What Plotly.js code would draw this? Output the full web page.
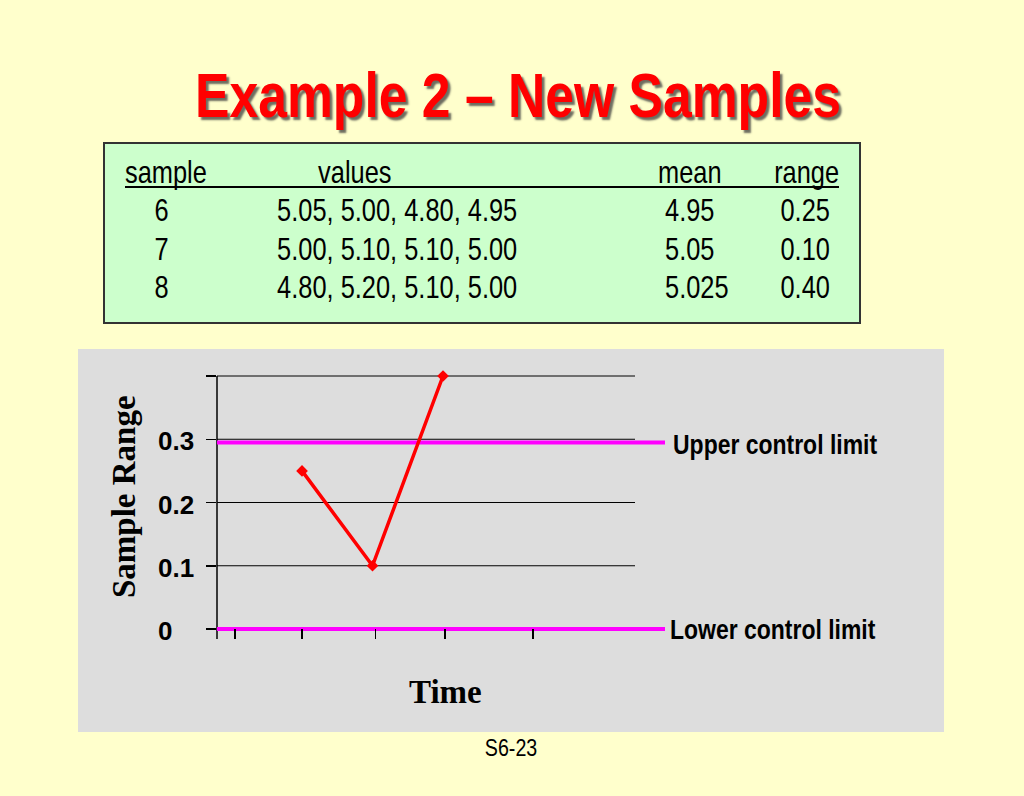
<!DOCTYPE html>
<html><head><meta charset="utf-8">
<script src="https://cdn.plot.ly/plotly-3.0.1.min.js"></script>
<style>html,body{margin:0;padding:0;background:#FFFFCC;overflow:hidden}</style>
</head><body><div id="chart" style="width:1024px;height:796px"></div>
<script>
// ---- data ----
const slideTitle = 'Example 2 – New Samples';
const tableHeaders = ['sample', 'values', 'mean', 'range'];
const samples = [6, 7, 8];
const sampleValues = [[5.05, 5.00, 4.80, 4.95], [5.00, 5.10, 5.10, 5.00], [4.80, 5.20, 5.10, 5.00]];
const sampleMeans = ['4.95', '5.05', '5.025'];
const sampleRanges = [0.25, 0.10, 0.40];
const upperControlLimit = 0.295;
const lowerControlLimit = 0;
const limitLabels = ['Upper control limit', 'Lower control limit'];
const yTickVals = [0, 0.1, 0.2, 0.3, 0.4];
const yTickLabels = ['0', '0.1', '0.2', '0.3', ''];
const yGridVals = [0.1, 0.2, 0.3, 0.4];
const xTickVals = [5.05, 6, 7.04, 8.03, 9.28];
const yAxisTitle = 'Sample Range';
const xAxisTitle = 'Time';
const slideNumber = 'S6-23';

// ---- layout geometry (pixels) ----
const W = 1024, H = 796;
const L = 217, R = 665, T = 370, B = 639;
const xRange = [4.794, 11.149];
const yRange = [-0.0158, 0.4095];
const px = X => (X - L) / (R - L);
const py = Y => (B - Y) / (B - T);

const sans = "'Liberation Sans', Arial, sans-serif";
const serif = "'Liberation Serif', 'Times New Roman', serif";
const NARROW = 0.82; // Arial Narrow look: horizontal squeeze of Arial

const traces = [
  { x: xRange, y: [upperControlLimit, upperControlLimit], mode: 'lines',
    line: { color: '#FF00FF', width: 4 }, hoverinfo: 'skip' },
  { x: xRange, y: [lowerControlLimit, lowerControlLimit], mode: 'lines',
    line: { color: '#FF00FF', width: 4 }, hoverinfo: 'skip' },
  { x: samples, y: sampleRanges, mode: 'lines+markers', cliponaxis: false,
    line: { color: '#FF0000', width: 3.5 },
    marker: { symbol: 'diamond', size: 9, color: '#FF0000' } }
];

const shapes = [
  { type: 'rect', xref: 'paper', yref: 'paper', x0: px(78), x1: px(944), y0: py(349), y1: py(732),
    fillcolor: '#DDDDDD', line: { width: 0 }, layer: 'below' },
  { type: 'rect', xref: 'paper', yref: 'paper', x0: px(104), x1: px(860), y0: py(143), y1: py(323),
    fillcolor: '#CCFFCC', line: { color: '#333333', width: 2 }, layer: 'below' },
  { type: 'line', xref: 'paper', yref: 'paper', x0: px(125), x1: px(839), y0: py(187), y1: py(187),
    line: { color: '#000000', width: 2 }, layer: 'below' },
  { type: 'line', xref: 'paper', yref: 'y', x0: 0, x1: 0, y0: yRange[0], y1: yTickVals[yTickVals.length - 1],
    line: { color: '#000000', width: 1.5 }, layer: 'below' }
];
yGridVals.forEach(v => shapes.push({
  type: 'line', xref: 'paper', yref: 'y', x0: 0, x1: px(635), y0: v, y1: v,
  line: { color: '#000000', width: 1 }, layer: 'below'
}));

const annotations = [];
const squeeze = []; // {index, scale, origin}
function ann(text, x, y, o, scale) {
  const a = Object.assign({ text: text, x: x, y: y, xref: 'paper', yref: 'paper',
    showarrow: false, xanchor: 'center', yanchor: 'middle' }, o);
  annotations.push(a);
  if (scale) squeeze.push({ index: annotations.length - 1, scale: scale, origin: a.xanchor === 'left' ? 'left' : 'center' });
}
const headerX = [166, 355, 690, 806];
tableHeaders.forEach((h, i) => ann(h, px(headerX[i]), py(172),
  { font: { family: sans, size: 31, color: '#000' } }, NARROW));
const rowY = [210, 249, 287];
samples.forEach((s, i) => {
  ann(String(s), px(161), py(rowY[i]), { font: { family: sans, size: 31, color: '#000' } }, NARROW);
  ann(sampleValues[i].map(v => v.toFixed(2)).join(', '), px(275), py(rowY[i]),
    { xanchor: 'left', font: { family: sans, size: 31, color: '#000' } }, NARROW);
  ann(sampleMeans[i], px(663), py(rowY[i]), { xanchor: 'left', font: { family: sans, size: 31, color: '#000' } }, NARROW);
  ann(sampleRanges[i].toFixed(2), px(805), py(rowY[i]), { font: { family: sans, size: 31, color: '#000' } }, NARROW);
});
yTickVals.forEach((v, i) => {
  if (!yTickLabels[i]) return;
  ann(yTickLabels[i], px(156), v, { yref: 'y', xanchor: 'left', yshift: -2,
    font: { family: sans, size: 26, color: '#000', weight: 'bold' } });
});
ann(limitLabels[0], px(671), upperControlLimit, { yref: 'y', xanchor: 'left', yshift: -2,
  font: { family: sans, size: 28, color: '#000', weight: 'bold' } }, NARROW);
ann(limitLabels[1], px(668), lowerControlLimit, { yref: 'y', xanchor: 'left',
  font: { family: sans, size: 28, color: '#000', weight: 'bold' } }, NARROW);
ann(yAxisTitle, px(124), py(497), { textangle: -90,
  font: { family: serif, size: 33, color: '#000', weight: 'bold' } });
ann(xAxisTitle, px(445), py(692), { font: { family: serif, size: 33, color: '#000', weight: 'bold' } });
ann(slideNumber, px(511), py(747), { font: { family: sans, size: 24, color: '#000' } }, NARROW);

const layout = {
  width: W, height: H,
  margin: { l: L, r: W - R, t: T, b: H - B, pad: 0 },
  paper_bgcolor: '#FFFFCC', plot_bgcolor: 'rgba(0,0,0,0)',
  showlegend: false,
  title: { text: slideTitle, xref: 'container', yref: 'container', x: 518 / W, y: 1 - 95 / H,
    xanchor: 'center', yanchor: 'middle',
    font: { family: sans, size: 63, color: '#FF0000', weight: 'bold', shadow: '3px 3px 2px rgba(60,60,60,0.75)' } },
  xaxis: { range: xRange, tickmode: 'array', tickvals: xTickVals, ticks: 'inside', ticklen: 10,
    tickwidth: 1.5, tickcolor: '#000', showticklabels: false, showgrid: false, zeroline: false,
    showline: false, fixedrange: true },
  yaxis: { range: yRange, tickmode: 'array', tickvals: yTickVals, ticks: 'outside', ticklen: 10,
    tickwidth: 1.5, tickcolor: '#000', showticklabels: false, showgrid: false, zeroline: false,
    showline: false, fixedrange: true },
  shapes: shapes,
  annotations: annotations
};

function squeezeText(el, scale, origin) {
  if (!el) return;
  el.style.transformBox = 'fill-box';
  el.style.transformOrigin = origin + ' center';
  el.style.transform = 'scaleX(' + scale + ')';
}

Plotly.newPlot('chart', traces, layout, { displayModeBar: false, staticPlot: true }).then(gd => {
  squeezeText(gd.querySelector('.gtitle'), NARROW, 'center');
  squeeze.forEach(s => {
    squeezeText(gd.querySelector('g.annotation[data-index="' + s.index + '"] text.annotation-text'), s.scale, s.origin);
  });
});
</script>
</body></html>
